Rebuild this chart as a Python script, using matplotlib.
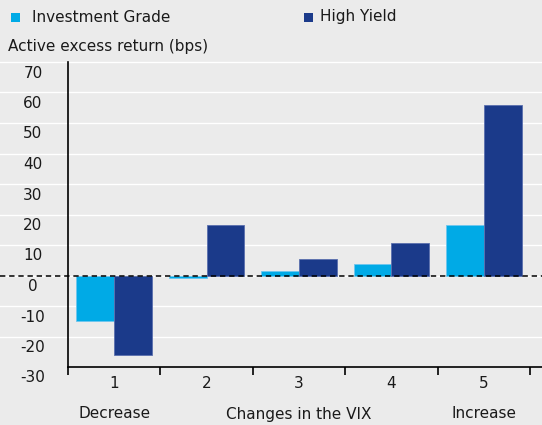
import matplotlib
matplotlib.use("Agg")
import matplotlib.pyplot as plt
import matplotlib.transforms as mtransforms
from matplotlib.patches import Rectangle
import numpy as np

categories = [1, 2, 3, 4, 5]
cat_labels = ["1", "2", "3", "4", "5"]
investment_grade = [-14.8, -0.8, 1.4, 3.7, 16.5]
high_yield = [-26.0, 16.7, 5.3, 10.7, 56.0]
series_names = ["Investment Grade", "High Yield"]
y_ticks = [-30, -20, -10, 0, 10, 20, 30, 40, 50, 60, 70]
group_labels = ["Decrease", "Changes in the VIX", "Increase"]
group_positions = [1, 3, 5]

IG_COLOR = "#00aae6"
HY_COLOR = "#1b3a8a"
BG = "#ebebeb"

plt.rcParams['font.family'] = ['DejaVu Sans']
W, H = 542, 425
fig = plt.figure(figsize=(W / 100, H / 100), dpi=100, facecolor=BG)
ax = fig.add_axes([68 / W, (H - 367) / H, (W - 68) / W, (367 - 62) / H])
ax.set_facecolor(BG)

x = np.array(categories, dtype=float)
bw = 0.41
ax.bar(x - bw / 2, investment_grade, bw, color=IG_COLOR, edgecolor="#6fc6ee", linewidth=0.6, zorder=3)
ax.bar(x + bw / 2, high_yield, bw, color=HY_COLOR, edgecolor="#5a6fae", linewidth=0.6, zorder=3)

ax.set_ylim(-30, 70)
ax.set_xlim(0.5, 5.5 + 12 / 92.4)

# gridlines spanning the full figure width
left_ext = -68 / (W - 68)
for v in y_ticks:
    if v == -30:
        continue
    ax.plot([left_ext, 1], [v, v], transform=ax.get_yaxis_transform(),
            color="white", lw=1.0, clip_on=False, zorder=1)
ax.plot([left_ext, 1], [0, 0], transform=ax.get_yaxis_transform(),
        color="black", lw=1.1, ls=(0, (3.5, 2.5)), clip_on=False, zorder=4)

# spines
for s in ["top", "right"]:
    ax.spines[s].set_visible(False)
ax.spines["left"].set_linewidth(1.2)
ax.spines["bottom"].set_linewidth(1.2)
ax.spines["bottom"].set_zorder(5)

# y tick labels (offset below gridlines)
ax.set_yticks(y_ticks)
ax.set_yticklabels([])
ax.tick_params(axis="y", length=0)
ylab_tr = mtransforms.blended_transform_factory(fig.transFigure, ax.transData) + \
    mtransforms.ScaledTranslation(0, -11 / 100, fig.dpi_scale_trans)
for v in y_ticks:
    fig.text(33 / W, v, f"{v}", transform=ylab_tr, ha="center", va="center",
             fontsize=11, color="#1a1a1a")

# x ticks at boundaries
ax.set_xticks([0.5, 1.5, 2.5, 3.5, 4.5, 5.5])
ax.set_xticklabels([])
ax.tick_params(axis="x", direction="out", length=6, width=1.2, color="black")
xtr = mtransforms.blended_transform_factory(ax.transData, fig.transFigure)
for c, lab in zip(categories, cat_labels):
    fig.text(c, (H - 383) / H, lab, transform=xtr, ha="center", va="center",
             fontsize=11, color="#1a1a1a")
for c, lab in zip(group_positions, group_labels):
    fig.text(c, (H - 414) / H, lab, transform=xtr, ha="center", va="center",
             fontsize=11, color="#1a1a1a")

# y-axis title
fig.text(8 / W, (H - 46) / H, "Active excess return (bps)", ha="left", va="center",
         fontsize=11, color="#1a1a1a")

# legend
for (sx, tx, col, name) in [(11, 32, IG_COLOR, series_names[0]), (304, 320, HY_COLOR, series_names[1])]:
    fig.patches.append(Rectangle((sx / W, (H - 22) / H), 9 / W, 9 / H, transform=fig.transFigure,
                                 facecolor=col, edgecolor="none"))
    fig.text(tx / W, (H - 17) / H, name, ha="left", va="center", fontsize=11, color="#1a1a1a")

fig.savefig("out.png", dpi=100, facecolor=BG)
